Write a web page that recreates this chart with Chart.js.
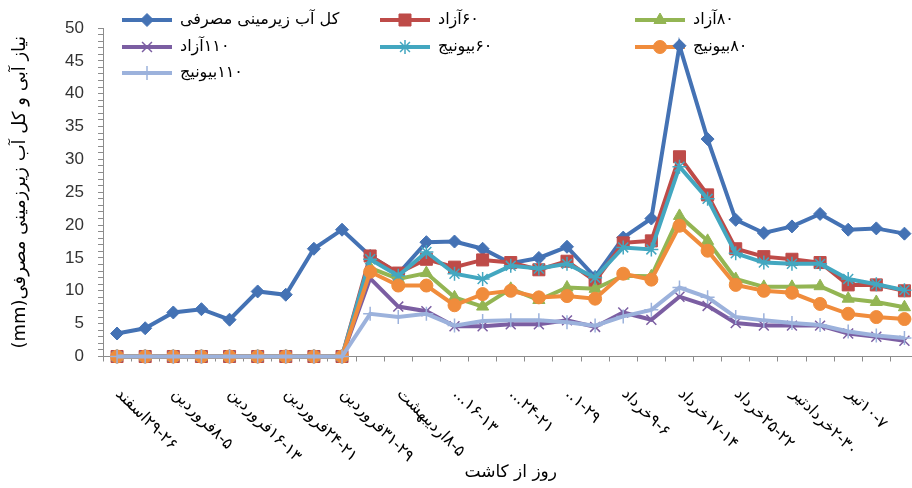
<!DOCTYPE html>
<html>
<head>
<meta charset="utf-8">
<script src="https://cdn.jsdelivr.net/npm/chart.js@4.4.0/dist/chart.umd.min.js"></script>
<style>
  html, body { margin: 0; padding: 0; background: #fff; overflow: hidden; }
</style>
</head>
<body>
<canvas id="chart" width="928" height="488"></canvas>
<script>
// 4-day periods from sowing; only every other period carries a label on the axis
const periods = [
  "اسفند ۲۹-۲۶", "", "فروردین ۸-۵", "", "فروردین ۱۶-۱۳", "", "فروردین ۲۴-۲۱", "",
  "فروردین ۳۱-۲۹", "", "اردیبهشت ۸-۵", "", "... ۱۶-۱۳", "", "... ۲۴-۲۱", "",
  ".. ۱-۲۹", "", "خرداد ۹-۶", "", "خرداد ۱۷-۱۴", "", "خرداد ۲۵-۲۲", "",
  "خردادتیر ۲-۳۰", "", "تیر ۱۰-۷", "", ""
];

// groundwater used (mm)
const totalWater = [3.5, 4.3, 6.7, 7.2, 5.6, 9.9, 9.4, 16.4, 19.3, 15.3, 12.6, 17.4, 17.5, 16.4, 14.2,
  15.0, 16.7, 12.1, 18.1, 21.0, 47.3, 33.1, 20.8, 18.8, 19.8, 21.7, 19.3, 19.5, 18.7];

// crop water requirement per treatment (mm)
const azad60 = [0, 0, 0, 0, 0, 0, 0, 0, 0, 15.3, 12.7, 14.8, 13.6, 14.7, 14.3,
  13.2, 14.5, 11.5, 17.3, 17.6, 30.4, 24.6, 16.4, 15.2, 14.8, 14.3, 10.9, 10.9, 10.0];
const azad80 = [0, 0, 0, 0, 0, 0, 0, 0, 0, 13.5, 11.8, 12.7, 9.0, 7.6, 10.3,
  8.6, 10.5, 10.3, 12.3, 12.2, 21.4, 17.6, 11.8, 10.6, 10.6, 10.7, 8.8, 8.3, 7.5];
const azad110 = [0, 0, 0, 0, 0, 0, 0, 0, 0, 11.9, 7.6, 6.9, 4.6, 4.6, 4.9,
  4.9, 5.5, 4.5, 6.7, 5.6, 9.1, 7.7, 5.1, 4.7, 4.7, 4.7, 3.5, 3.0, 2.4];
const bionij60 = [0, 0, 0, 0, 0, 0, 0, 0, 0, 14.8, 12.3, 15.9, 12.6, 11.8, 13.8,
  13.4, 14.1, 12.0, 16.6, 16.3, 28.9, 24.0, 15.7, 14.3, 14.1, 14.1, 11.8, 11.0, 10.1];
const bionij80 = [0, 0, 0, 0, 0, 0, 0, 0, 0, 12.9, 10.8, 10.8, 7.8, 9.5, 10.0,
  9.0, 9.2, 8.8, 12.6, 11.7, 19.9, 16.1, 10.9, 10.0, 9.7, 8.0, 6.5, 6.0, 5.7];
const bionij110 = [0, 0, 0, 0, 0, 0, 0, 0, 0, 6.5, 6.0, 6.5, 4.7, 5.4, 5.5,
  5.5, 5.2, 4.7, 6.1, 7.1, 10.5, 9.0, 6.0, 5.5, 5.1, 4.8, 3.8, 3.2, 2.8];

const series = [
  { name: "کل آب زیرمینی مصرفی", data: totalWater, color: "#4472B4", style: "rectRot", r: 6.5, pw: 1 },
  { name: "آزاد ۶۰", data: azad60, color: "#BE4B48", style: "rect", r: 8.5, pw: 1 },
  { name: "آزاد ۸۰", data: azad80, color: "#93B553", style: "triangle", r: 7, pw: 1 },
  { name: "آزاد ۱۱۰", data: azad110, color: "#7B5EA2", style: "crossRot", r: 7, pw: 1.5 },
  { name: "بیونیج ۶۰", data: bionij60, color: "#43A7C0", style: "star", r: 7, pw: 1.5 },
  { name: "بیونیج ۸۰", data: bionij80, color: "#F08C3C", style: "circle", r: 6.5, pw: 1 },
  { name: "بیونیج ۱۱۰", data: bionij110, color: "#9CB2DC", style: "cross", r: 7, pw: 1.5 }
];

const AR_FONT = '"DejaVu Sans", sans-serif';

// draws "word numbers" with the word on the left and the numbers right after it
function drawPair(ctx, text, x, y) {
  const m = text.match(/^(.*?)\s*([۰-۹][۰-۹\-]*)$/);
  if (!m) {
    ctx.fillText(text, x, y);
    return;
  }
  ctx.fillText(m[1], x, y);
  ctx.fillText(m[2], x + ctx.measureText(m[1]).width, y);
}

// legend block drawn over the plot, under the lines
const seriesKey = {
  id: "seriesKey",
  beforeDatasetsDraw(chart) {
    const ctx = chart.ctx;
    const cols = [122, 380, 635];
    const rows = [20, 47, 73];
    ctx.save();
    series.forEach((s, i) => {
      const x = cols[i % 3], y = rows[Math.floor(i / 3)];
      ctx.strokeStyle = s.color;
      ctx.lineWidth = 4;
      ctx.beginPath();
      ctx.moveTo(x, y);
      ctx.lineTo(x + 50, y);
      ctx.stroke();
      ctx.fillStyle = s.color;
      ctx.lineWidth = s.pw;
      Chart.helpers.drawPoint(ctx, { pointStyle: s.style, radius: s.r, rotation: 0, borderWidth: s.pw }, x + 25, y);
      ctx.fillStyle = "#000";
      ctx.font = "16px " + AR_FONT;
      ctx.textAlign = "left";
      ctx.textBaseline = "middle";
      drawPair(ctx, s.name, x + 58, y);
    });
    ctx.restore();
  }
};

// slanted period labels under the x axis
const periodLabels = {
  id: "periodLabels",
  afterDraw(chart) {
    const ctx = chart.ctx, xs = chart.scales.x;
    ctx.save();
    ctx.font = "16px " + AR_FONT;
    ctx.fillStyle = "#000";
    ctx.textAlign = "left";
    ctx.textBaseline = "middle";
    periods.forEach((p, i) => {
      if (!p) return;
      ctx.save();
      ctx.translate(xs.getPixelForValue(i) + 1, xs.top + 35);
      ctx.rotate(Math.PI / 4);
      drawPair(ctx, p, 0, 0);
      ctx.restore();
    });
    ctx.restore();
  }
};

new Chart(document.getElementById("chart"), {
  type: "line",
  data: {
    labels: periods,
    datasets: series.map((s, i) => ({
      label: s.name,
      data: s.data,
      borderColor: s.color,
      backgroundColor: s.color,
      borderWidth: 4,
      tension: 0,
      pointStyle: s.style,
      pointRadius: s.r,
      pointBorderWidth: s.pw,
      pointBackgroundColor: s.color,
      pointBorderColor: s.color,
      order: series.length - i,
      clip: false
    }))
  },
  options: {
    responsive: false,
    devicePixelRatio: 1,
    animation: false,
    layout: { padding: { top: 28, right: 2, left: 0, bottom: 0 } },
    plugins: {
      legend: { display: false },
      tooltip: { enabled: false }
    },
    scales: {
      x: {
        offset: true,
        grid: { offset: true, drawOnChartArea: false, tickLength: 5, color: "#8c8c8c" },
        border: { color: "#8c8c8c", width: 1 },
        ticks: { display: false },
        title: {
          display: true,
          text: "روز از کاشت",
          font: { family: AR_FONT, size: 17 },
          color: "#000",
          padding: { top: 0, bottom: 5 }
        },
        afterFit(scale) { scale.height = 131.5; }
      },
      y: {
        min: 0,
        max: 50,
        grid: { drawOnChartArea: false, tickLength: 5, color: "#8c8c8c" },
        border: { color: "#8c8c8c", width: 1 },
        ticks: {
          stepSize: 1,
          autoSkip: false,
          padding: 14,
          color: "#333",
          font: { family: '"Liberation Sans", sans-serif', size: 17 },
          callback: v => (v % 5 === 0 ? v : "")
        },
        title: {
          display: true,
          text: "(mm)نیاز آبی و کل آب زیرزمینی مصرفی",
          font: { family: AR_FONT, size: 18 },
          color: "#000",
          padding: { top: 10, bottom: 0 }
        },
        afterFit(scale) { scale.width = 103; }
      }
    }
  },
  plugins: [seriesKey, periodLabels]
});
</script>
</body>
</html>
